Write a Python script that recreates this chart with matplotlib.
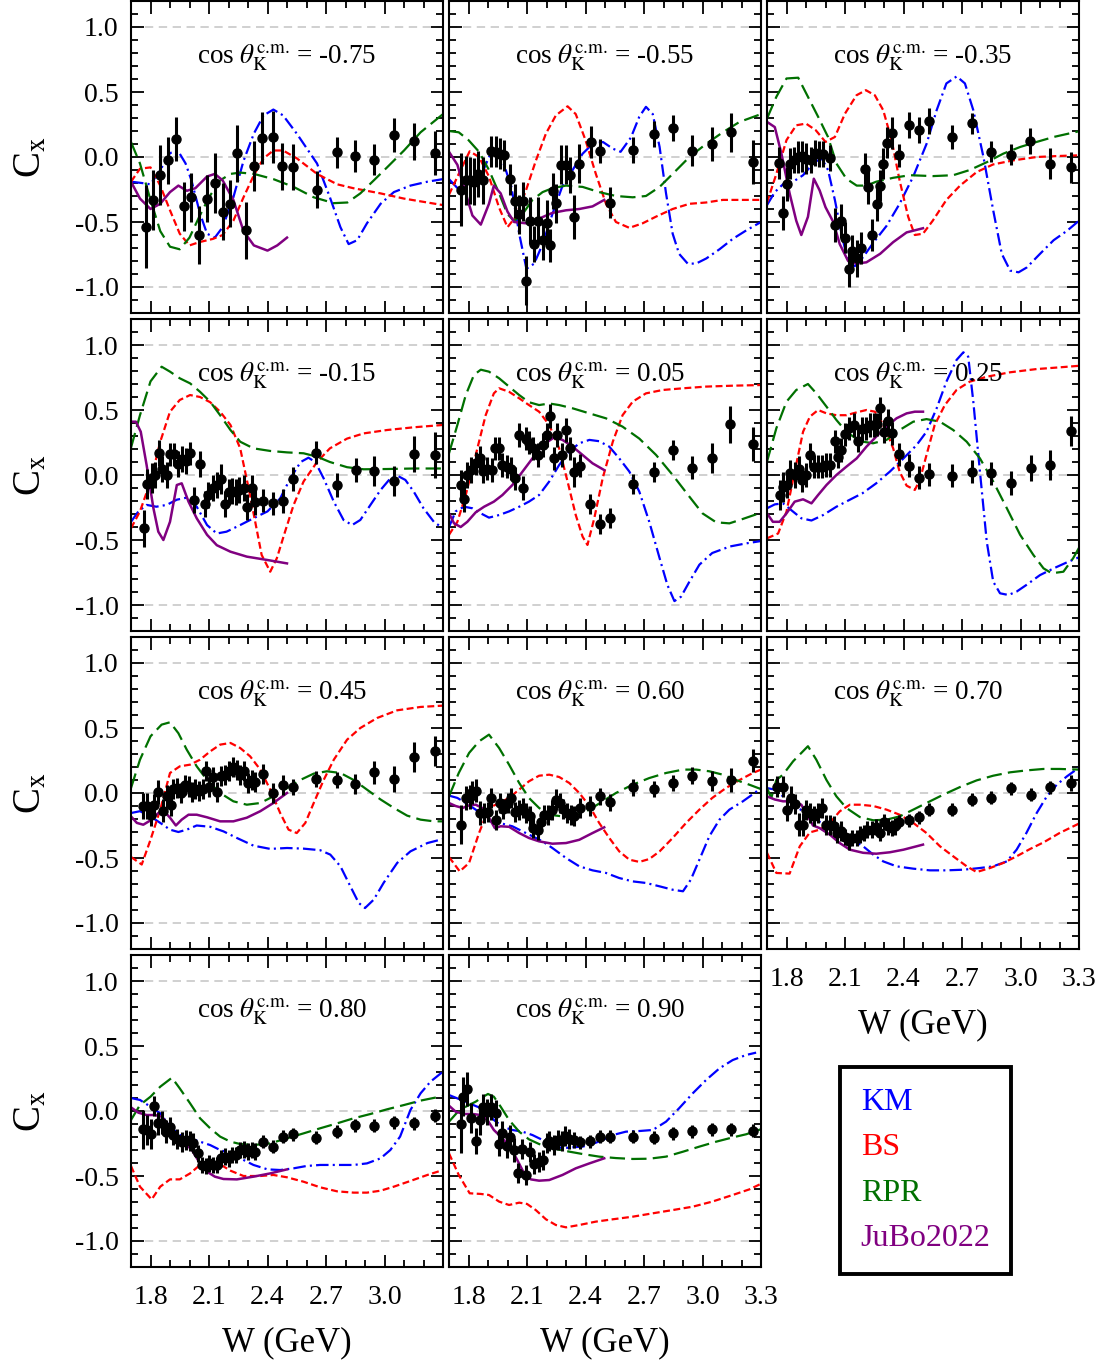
import numpy as np
import matplotlib
matplotlib.use("Agg")
import matplotlib.pyplot as plt
from matplotlib.ticker import MultipleLocator, FixedLocator, FormatStrFormatter

plt.rcParams['font.family'] = 'serif'
plt.rcParams['font.serif'] = ['Liberation Serif', 'DejaVu Serif']
plt.rcParams['mathtext.fontset'] = 'stix'
plt.rcParams['axes.unicode_minus'] = False
plt.rcParams['lines.scale_dashes'] = False

# ---------------- data ----------------
angle_labels = ['-0.75', '-0.55', '-0.35', '-0.15', '0.05', '0.25', '0.45', '0.60', '0.70', '0.80', '0.90']

# cos = -0.75
w_m075 = [1.777, 1.815, 1.849, 1.888, 1.931, 1.972, 2.008, 2.051, 2.092, 2.131, 2.171, 2.209, 2.246, 2.29, 2.332, 2.373, 2.43, 2.476, 2.53, 2.654, 2.758, 2.85, 2.948, 3.051, 3.149, 3.26]
cx_m075 = [-0.535, -0.33, -0.136, -0.026, 0.141, -0.38, -0.31, -0.60, -0.32, -0.20, -0.42, -0.36, 0.03, -0.565, -0.07, 0.147, 0.154, -0.07, -0.077, -0.25, 0.036, 0.008, -0.02, 0.167, 0.12, 0.033]
err_m075 = [0.32, 0.23, 0.23, 0.18, 0.17, 0.19, 0.19, 0.22, 0.18, 0.23, 0.22, 0.18, 0.22, 0.22, 0.19, 0.2, 0.2, 0.18, 0.18, 0.14, 0.12, 0.12, 0.12, 0.13, 0.14, 0.17]
km_w_m075 = [1.7, 1.755, 1.8, 1.85, 1.9, 1.94, 1.98, 2.01, 2.055, 2.09, 2.13, 2.17, 2.225, 2.277, 2.33, 2.38, 2.43, 2.48, 2.55, 2.654, 2.72, 2.774, 2.816, 2.86, 2.91, 2.98, 3.048, 3.133, 3.22, 3.3]
km_m075 = [-0.19, -0.20, -0.21, -0.10, 0.03, 0.05, -0.05, -0.18, -0.44, -0.59, -0.62, -0.54, -0.31, -0.03, 0.18, 0.32, 0.365, 0.32, 0.18, -0.05, -0.31, -0.54, -0.67, -0.64, -0.51, -0.36, -0.27, -0.22, -0.19, -0.17]
bs_w_m075 = [1.7, 1.746, 1.8, 1.85, 1.9, 1.95, 2.0, 2.05, 2.12, 2.17, 2.225, 2.277, 2.33, 2.38, 2.43, 2.48, 2.55, 2.654, 2.757, 2.84, 2.98, 3.1, 3.3]
bs_m075 = [-0.19, -0.09, -0.08, -0.22, -0.41, -0.59, -0.68, -0.655, -0.63, -0.60, -0.49, -0.31, -0.14, -0.01, 0.05, 0.05, -0.01, -0.13, -0.21, -0.24, -0.28, -0.32, -0.37]
rpr_w_m075 = [1.7, 1.746, 1.8, 1.85, 1.9, 1.95, 2.0, 2.05, 2.1, 2.157, 2.21, 2.26, 2.33, 2.43, 2.534, 2.637, 2.74, 2.81, 2.876, 2.945, 3.013, 3.1, 3.185, 3.3]
rpr_m075 = [0.115, -0.05, -0.33, -0.57, -0.69, -0.71, -0.62, -0.46, -0.31, -0.18, -0.13, -0.12, -0.13, -0.17, -0.23, -0.31, -0.355, -0.35, -0.28, -0.18, -0.08, 0.05, 0.19, 0.33]
jubo_w_m075 = [1.7, 1.746, 1.8, 1.85, 1.9, 1.943, 1.986, 2.03, 2.09, 2.13, 2.17, 2.225, 2.277, 2.33, 2.40, 2.45, 2.50]
jubo_m075 = [-0.19, -0.32, -0.40, -0.36, -0.27, -0.22, -0.26, -0.24, -0.15, -0.13, -0.18, -0.33, -0.57, -0.68, -0.72, -0.68, -0.62]

# cos = -0.55
w_m055 = [1.76, 1.786, 1.806, 1.828, 1.85, 1.875, 1.917, 1.94, 1.962, 1.983, 2.013, 2.04, 2.06, 2.077, 2.097, 2.114, 2.137, 2.157, 2.18, 2.2, 2.219, 2.234, 2.25, 2.274, 2.3, 2.32, 2.342, 2.368, 2.428, 2.476, 2.527, 2.642, 2.753, 2.847, 2.947, 3.05, 3.147, 3.258]
cx_m055 = [-0.25, -0.18, -0.18, -0.19, -0.13, -0.18, 0.045, 0.04, 0.025, 0.013, -0.17, -0.34, -0.44, -0.34, -0.95, -0.49, -0.67, -0.49, -0.64, -0.51, -0.68, -0.26, -0.355, -0.06, -0.06, -0.14, -0.46, -0.05, 0.115, 0.046, -0.35, 0.056, 0.18, 0.22, 0.05, 0.10, 0.19, -0.04]
err_m055 = [0.28, 0.19, 0.18, 0.18, 0.18, 0.18, 0.12, 0.12, 0.12, 0.12, 0.12, 0.13, 0.15, 0.15, 0.19, 0.18, 0.14, 0.18, 0.15, 0.18, 0.13, 0.14, 0.15, 0.15, 0.15, 0.14, 0.17, 0.15, 0.12, 0.09, 0.12, 0.10, 0.10, 0.10, 0.12, 0.13, 0.15, 0.17]
km_w_m055 = [1.7, 1.75, 1.80, 1.854, 1.905, 1.94, 1.98, 2.02, 2.06, 2.097, 2.137, 2.18, 2.23, 2.28, 2.334, 2.385, 2.436, 2.49, 2.54, 2.58, 2.633, 2.676, 2.71, 2.745, 2.78, 2.813, 2.847, 2.88, 2.924, 2.967, 3.02, 3.087, 3.155, 3.224, 3.3]
km_m055 = [-0.17, -0.25, -0.19, -0.18, 0.0, 0.04, -0.05, -0.23, -0.59, -0.86, -0.82, -0.67, -0.44, -0.23, -0.10, 0.025, 0.10, 0.115, 0.064, 0.04, 0.15, 0.31, 0.386, 0.33, 0.077, -0.28, -0.59, -0.745, -0.82, -0.82, -0.78, -0.71, -0.63, -0.565, -0.50]
bs_w_m055 = [1.7, 1.75, 1.806, 1.854, 1.905, 1.957, 2.0, 2.042, 2.094, 2.145, 2.197, 2.248, 2.308, 2.35, 2.4, 2.453, 2.505, 2.556, 2.625, 2.693, 2.76, 2.847, 2.933, 3.018, 3.104, 3.19, 3.3]
bs_m055 = [-0.29, -0.13, 0.044, 0.0, -0.15, -0.39, -0.54, -0.46, -0.26, -0.03, 0.18, 0.32, 0.39, 0.33, 0.13, -0.13, -0.36, -0.50, -0.545, -0.51, -0.46, -0.40, -0.36, -0.35, -0.33, -0.33, -0.33]
rpr_w_m055 = [1.7, 1.75, 1.80, 1.854, 1.905, 1.957, 2.0, 2.034, 2.077, 2.128, 2.18, 2.23, 2.3, 2.385, 2.47, 2.556, 2.642, 2.71, 2.78, 2.847, 2.933, 3.018, 3.104, 3.19, 3.3]
rpr_m055 = [0.20, 0.19, 0.13, 0.04, -0.10, -0.28, -0.44, -0.49, -0.44, -0.33, -0.27, -0.24, -0.22, -0.23, -0.27, -0.30, -0.31, -0.30, -0.23, -0.13, 0.0, 0.10, 0.19, 0.27, 0.33]
jubo_w_m055 = [1.7, 1.743, 1.786, 1.82, 1.863, 1.905, 1.93, 1.965, 2.0, 2.034, 2.094, 2.16, 2.23, 2.3, 2.368, 2.436, 2.496]
jubo_m055 = [0.04, -0.06, -0.28, -0.45, -0.52, -0.36, -0.22, -0.28, -0.42, -0.50, -0.51, -0.475, -0.43, -0.41, -0.40, -0.38, -0.33]

# cos = -0.35
w_m035 = [1.762, 1.782, 1.8, 1.82, 1.839, 1.86, 1.88, 1.9, 1.928, 1.945, 1.965, 1.988, 2.022, 2.048, 2.082, 2.102, 2.12, 2.138, 2.159, 2.18, 2.202, 2.219, 2.24, 2.262, 2.279, 2.296, 2.316, 2.342, 2.378, 2.43, 2.477, 2.529, 2.649, 2.751, 2.85, 2.95, 3.05, 3.149, 3.258]
cx_m035 = [-0.046, -0.43, -0.21, -0.05, -0.026, 0.0, 0.005, -0.013, -0.026, 0.03, 0.026, 0.02, -0.005, -0.52, -0.49, -0.62, -0.86, -0.72, -0.78, -0.70, -0.09, -0.23, -0.60, -0.36, -0.22, -0.05, 0.11, 0.185, 0.013, 0.244, 0.206, 0.28, 0.154, 0.26, 0.04, 0.018, 0.12, -0.05, -0.08]
err_m035 = [0.12, 0.13, 0.13, 0.12, 0.10, 0.12, 0.12, 0.12, 0.10, 0.10, 0.10, 0.10, 0.10, 0.13, 0.13, 0.12, 0.14, 0.12, 0.14, 0.12, 0.12, 0.13, 0.12, 0.13, 0.12, 0.12, 0.12, 0.12, 0.09, 0.10, 0.10, 0.10, 0.09, 0.08, 0.08, 0.08, 0.10, 0.12, 0.12]
km_w_m035 = [1.7, 1.74, 1.782, 1.834, 1.885, 1.936, 1.98, 2.013, 2.048, 2.082, 2.116, 2.15, 2.193, 2.245, 2.313, 2.38, 2.45, 2.518, 2.57, 2.62, 2.673, 2.715, 2.758, 2.81, 2.86, 2.904, 2.947, 2.99, 3.032, 3.1, 3.17, 3.24, 3.3]
km_m035 = [-0.37, -0.27, -0.21, -0.19, -0.14, -0.05, -0.01, -0.10, -0.33, -0.59, -0.81, -0.84, -0.77, -0.66, -0.53, -0.36, -0.15, 0.10, 0.36, 0.566, 0.62, 0.566, 0.36, 0.0, -0.41, -0.745, -0.874, -0.887, -0.85, -0.745, -0.64, -0.566, -0.49]
bs_w_m035 = [1.7, 1.748, 1.8, 1.85, 1.9, 1.95, 2.0, 2.048, 2.1, 2.159, 2.207, 2.253, 2.296, 2.339, 2.38, 2.424, 2.458, 2.5, 2.55, 2.62, 2.69, 2.775, 2.86, 2.963, 3.083, 3.2, 3.3]
bs_m035 = [-0.35, -0.13, 0.13, 0.244, 0.257, 0.206, 0.116, 0.154, 0.334, 0.475, 0.514, 0.475, 0.36, 0.13, -0.18, -0.46, -0.60, -0.59, -0.49, -0.33, -0.22, -0.116, -0.057, -0.026, 0.0, 0.008, 0.013]
rpr_w_m035 = [1.7, 1.748, 1.8, 1.86, 1.91, 1.962, 2.013, 2.056, 2.107, 2.16, 2.21, 2.26, 2.347, 2.433, 2.55, 2.655, 2.74, 2.827, 2.912, 2.998, 3.083, 3.17, 3.3]
rpr_m035 = [0.296, 0.463, 0.604, 0.61, 0.463, 0.31, 0.154, -0.05, -0.167, -0.22, -0.22, -0.19, -0.16, -0.14, -0.147, -0.14, -0.10, -0.04, 0.026, 0.077, 0.116, 0.154, 0.198]
jubo_w_m035 = [1.7, 1.74, 1.774, 1.816, 1.85, 1.876, 1.91, 1.94, 1.97, 2.0, 2.04, 2.073, 2.116, 2.159, 2.21, 2.28, 2.347, 2.416, 2.5]
jubo_m035 = [0.27, 0.23, 0.026, -0.28, -0.49, -0.60, -0.46, -0.167, -0.257, -0.386, -0.50, -0.67, -0.80, -0.82, -0.81, -0.745, -0.655, -0.58, -0.548]

# cos = -0.15
w_m015 = [1.767, 1.78, 1.806, 1.823, 1.846, 1.86, 1.883, 1.9, 1.923, 1.94, 1.96, 1.98, 2.003, 2.024, 2.054, 2.08, 2.097, 2.12, 2.143, 2.16, 2.18, 2.2, 2.22, 2.24, 2.256, 2.277, 2.297, 2.32, 2.337, 2.376, 2.426, 2.48, 2.53, 2.65, 2.757, 2.852, 2.948, 3.048, 3.15, 3.258]
cx_m015 = [-0.41, -0.07, -0.026, 0.0, 0.167, 0.05, 0.0, 0.16, 0.16, 0.085, 0.12, 0.11, 0.167, -0.19, 0.085, -0.22, -0.15, -0.10, -0.077, -0.03, -0.225, -0.13, -0.12, -0.13, -0.115, -0.10, -0.244, -0.10, -0.205, -0.197, -0.218, -0.20, -0.03, 0.172, -0.077, 0.038, 0.033, -0.044, 0.16, 0.154]
err_m015 = [0.14, 0.115, 0.115, 0.10, 0.10, 0.10, 0.10, 0.09, 0.09, 0.10, 0.10, 0.10, 0.09, 0.10, 0.10, 0.10, 0.10, 0.10, 0.10, 0.115, 0.10, 0.10, 0.10, 0.10, 0.10, 0.10, 0.10, 0.10, 0.10, 0.09, 0.09, 0.09, 0.09, 0.09, 0.09, 0.09, 0.115, 0.115, 0.14, 0.18]
km_w_m015 = [1.7, 1.738, 1.78, 1.83, 1.883, 1.935, 1.986, 2.037, 2.09, 2.14, 2.19, 2.26, 2.328, 2.4, 2.465, 2.517, 2.57, 2.61, 2.645, 2.688, 2.74, 2.79, 2.834, 2.876, 2.928, 2.98, 3.03, 3.065, 3.107, 3.15, 3.2, 3.253, 3.3]
km_m015 = [-0.36, -0.28, -0.23, -0.244, -0.23, -0.19, -0.174, -0.244, -0.385, -0.45, -0.436, -0.385, -0.333, -0.28, -0.18, -0.026, 0.10, 0.133, 0.10, -0.026, -0.205, -0.346, -0.385, -0.346, -0.23, -0.115, -0.026, -0.005, -0.038, -0.128, -0.256, -0.36, -0.41]
bs_w_m015 = [1.7, 1.746, 1.8, 1.85, 1.9, 1.95, 2.003, 2.054, 2.106, 2.157, 2.21, 2.26, 2.303, 2.337, 2.37, 2.414, 2.448, 2.49, 2.534, 2.585, 2.654, 2.72, 2.808, 2.893, 3.013, 3.15, 3.3]
bs_m015 = [-0.41, -0.28, -0.05, 0.256, 0.487, 0.577, 0.615, 0.60, 0.56, 0.487, 0.385, 0.205, -0.10, -0.36, -0.615, -0.744, -0.64, -0.436, -0.23, -0.05, 0.10, 0.205, 0.28, 0.32, 0.346, 0.367, 0.385]
rpr_w_m015 = [1.7, 1.746, 1.8, 1.857, 1.9, 1.95, 2.003, 2.054, 2.106, 2.157, 2.21, 2.26, 2.328, 2.414, 2.5, 2.585, 2.654, 2.72, 2.808, 2.893, 3.013, 3.15, 3.3]
rpr_m015 = [0.21, 0.46, 0.72, 0.833, 0.795, 0.744, 0.705, 0.64, 0.564, 0.46, 0.346, 0.256, 0.205, 0.185, 0.174, 0.167, 0.141, 0.10, 0.06, 0.044, 0.046, 0.05, 0.05]
jubo_w_m015 = [1.7, 1.725, 1.75, 1.78, 1.815, 1.84, 1.866, 1.9, 1.935, 1.96, 1.995, 2.037, 2.09, 2.14, 2.21, 2.294, 2.4, 2.5]
jubo_m015 = [0.41, 0.41, 0.333, 0.077, -0.256, -0.436, -0.5, -0.36, -0.077, -0.064, -0.205, -0.333, -0.46, -0.54, -0.59, -0.628, -0.654, -0.68]

# cos = 0.05
w_p005 = [1.76, 1.777, 1.794, 1.815, 1.837, 1.857, 1.876, 1.897, 1.92, 1.935, 1.957, 1.974, 1.995, 2.017, 2.037, 2.06, 2.08, 2.097, 2.11, 2.13, 2.154, 2.18, 2.2, 2.219, 2.24, 2.256, 2.277, 2.3, 2.32, 2.339, 2.373, 2.424, 2.476, 2.527, 2.645, 2.753, 2.847, 2.947, 3.05, 3.143, 3.258]
cx_p005 = [-0.077, -0.185, 0.0, 0.038, 0.09, 0.133, 0.03, 0.05, 0.038, 0.205, 0.205, 0.077, 0.064, 0.05, -0.026, 0.308, -0.10, 0.28, 0.25, 0.205, 0.154, 0.23, 0.308, 0.454, 0.128, 0.308, 0.154, 0.346, 0.205, 0.026, 0.072, -0.223, -0.377, -0.333, -0.072, 0.026, 0.195, 0.056, 0.133, 0.39, 0.236]
err_p005 = [0.115, 0.10, 0.10, 0.10, 0.09, 0.09, 0.09, 0.09, 0.09, 0.09, 0.09, 0.09, 0.09, 0.09, 0.09, 0.09, 0.09, 0.09, 0.09, 0.09, 0.09, 0.09, 0.09, 0.09, 0.09, 0.09, 0.09, 0.09, 0.09, 0.115, 0.09, 0.077, 0.077, 0.077, 0.077, 0.077, 0.077, 0.09, 0.115, 0.14, 0.13]
km_w_p005 = [1.7, 1.734, 1.777, 1.82, 1.863, 1.905, 1.957, 2.008, 2.06, 2.11, 2.162, 2.214, 2.265, 2.317, 2.368, 2.42, 2.47, 2.522, 2.573, 2.625, 2.676, 2.727, 2.78, 2.82, 2.856, 2.89, 2.933, 2.984, 3.05, 3.14, 3.224, 3.3]
km_p005 = [-0.40, -0.28, -0.244, -0.256, -0.295, -0.328, -0.308, -0.28, -0.244, -0.205, -0.154, -0.05, 0.077, 0.18, 0.244, 0.27, 0.26, 0.218, 0.128, 0.026, -0.128, -0.36, -0.64, -0.846, -0.97, -0.936, -0.82, -0.69, -0.60, -0.55, -0.526, -0.508]
bs_w_p005 = [1.7, 1.743, 1.786, 1.837, 1.888, 1.93, 1.957, 2.008, 2.06, 2.11, 2.162, 2.214, 2.265, 2.308, 2.35, 2.385, 2.41, 2.445, 2.488, 2.54, 2.59, 2.642, 2.71, 2.796, 2.9, 3.018, 3.155, 3.3]
bs_p005 = [-0.46, -0.36, -0.154, 0.154, 0.46, 0.628, 0.667, 0.64, 0.59, 0.538, 0.487, 0.385, 0.205, -0.05, -0.308, -0.474, -0.538, -0.333, -0.026, 0.256, 0.46, 0.564, 0.628, 0.654, 0.667, 0.68, 0.687, 0.692]
rpr_w_p005 = [1.7, 1.743, 1.786, 1.828, 1.863, 1.905, 1.957, 2.008, 2.06, 2.11, 2.162, 2.214, 2.265, 2.334, 2.42, 2.505, 2.59, 2.676, 2.762, 2.847, 2.933, 3.0, 3.07, 3.138, 3.207, 3.3]
rpr_p005 = [0.167, 0.385, 0.615, 0.77, 0.81, 0.795, 0.744, 0.68, 0.615, 0.56, 0.538, 0.55, 0.538, 0.513, 0.474, 0.436, 0.372, 0.28, 0.154, 0.0, -0.167, -0.295, -0.364, -0.372, -0.338, -0.29]
jubo_w_p005 = [1.7, 1.726, 1.76, 1.794, 1.837, 1.88, 1.93, 1.974, 2.025, 2.077, 2.128, 2.18, 2.24, 2.282, 2.334, 2.385, 2.436, 2.496]
jubo_p005 = [-0.295, -0.372, -0.40, -0.36, -0.287, -0.244, -0.205, -0.154, -0.077, 0.026, 0.128, 0.23, 0.29, 0.27, 0.218, 0.154, 0.09, 0.038]

# cos = 0.25
w_p025 = [1.765, 1.78, 1.8, 1.82, 1.842, 1.864, 1.88, 1.9, 1.923, 1.94, 1.962, 1.984, 2.005, 2.025, 2.048, 2.065, 2.082, 2.102, 2.12, 2.145, 2.167, 2.188, 2.207, 2.227, 2.248, 2.265, 2.282, 2.3, 2.32, 2.342, 2.376, 2.428, 2.477, 2.53, 2.65, 2.75, 2.847, 2.95, 3.053, 3.149, 3.26]
cx_p025 = [-0.154, -0.095, -0.077, 0.013, 0.0, 0.046, -0.038, 0.0, 0.154, 0.064, 0.064, 0.064, 0.077, 0.077, 0.26, 0.141, 0.192, 0.313, 0.36, 0.385, 0.264, 0.354, 0.36, 0.385, 0.385, 0.39, 0.513, 0.333, 0.415, 0.32, 0.16, 0.072, -0.02, 0.005, -0.005, 0.026, 0.013, -0.06, 0.056, 0.077, 0.34]
err_p025 = [0.115, 0.115, 0.10, 0.10, 0.10, 0.10, 0.09, 0.09, 0.09, 0.09, 0.09, 0.09, 0.09, 0.09, 0.09, 0.09, 0.09, 0.09, 0.09, 0.09, 0.09, 0.09, 0.09, 0.09, 0.09, 0.09, 0.09, 0.09, 0.09, 0.09, 0.09, 0.09, 0.09, 0.09, 0.09, 0.09, 0.09, 0.09, 0.10, 0.115, 0.115]
km_w_p025 = [1.7, 1.74, 1.782, 1.834, 1.876, 1.928, 1.988, 2.056, 2.125, 2.19, 2.26, 2.33, 2.4, 2.467, 2.518, 2.57, 2.62, 2.672, 2.707, 2.732, 2.758, 2.792, 2.827, 2.86, 2.895, 2.938, 2.98, 3.03, 3.1, 3.17, 3.238, 3.3]
km_p025 = [-0.256, -0.226, -0.218, -0.282, -0.333, -0.35, -0.308, -0.244, -0.19, -0.14, -0.064, 0.026, 0.128, 0.23, 0.333, 0.513, 0.718, 0.885, 0.944, 0.91, 0.564, 0.026, -0.513, -0.82, -0.91, -0.923, -0.897, -0.846, -0.77, -0.718, -0.672, -0.633]
bs_w_p025 = [1.7, 1.757, 1.8, 1.842, 1.885, 1.92, 1.962, 2.005, 2.056, 2.107, 2.16, 2.21, 2.253, 2.287, 2.32, 2.347, 2.38, 2.416, 2.458, 2.484, 2.518, 2.56, 2.612, 2.672, 2.74, 2.827, 2.946, 3.083, 3.2, 3.3]
bs_p025 = [-0.487, -0.45, -0.282, 0.026, 0.333, 0.449, 0.5, 0.474, 0.46, 0.46, 0.482, 0.5, 0.487, 0.41, 0.308, 0.205, 0.026, -0.082, -0.115, -0.038, 0.154, 0.385, 0.538, 0.654, 0.718, 0.756, 0.79, 0.815, 0.828, 0.84]
rpr_w_p025 = [1.7, 1.748, 1.8, 1.85, 1.91, 1.953, 2.005, 2.056, 2.107, 2.176, 2.244, 2.313, 2.38, 2.45, 2.518, 2.587, 2.655, 2.724, 2.792, 2.86, 2.93, 2.998, 3.066, 3.118, 3.16, 3.22, 3.27, 3.3]
rpr_p025 = [0.103, 0.36, 0.564, 0.654, 0.70, 0.628, 0.526, 0.423, 0.333, 0.26, 0.244, 0.27, 0.346, 0.41, 0.43, 0.41, 0.346, 0.256, 0.128, -0.05, -0.256, -0.46, -0.615, -0.718, -0.756, -0.744, -0.64, -0.56]
jubo_w_p025 = [1.7, 1.73, 1.765, 1.8, 1.842, 1.885, 1.928, 1.962, 2.005, 2.056, 2.107, 2.16, 2.21, 2.26, 2.313, 2.364, 2.416, 2.458, 2.5]
jubo_p025 = [-0.295, -0.36, -0.36, -0.295, -0.205, -0.187, -0.218, -0.154, -0.077, 0.0, 0.064, 0.128, 0.218, 0.295, 0.372, 0.436, 0.474, 0.487, 0.487]

# cos = 0.45
w_p045 = [1.76, 1.78, 1.8, 1.818, 1.84, 1.863, 1.883, 1.904, 1.917, 1.935, 1.957, 1.977, 1.995, 2.012, 2.03, 2.05, 2.068, 2.083, 2.1, 2.123, 2.14, 2.16, 2.18, 2.2, 2.222, 2.243, 2.26, 2.28, 2.3, 2.32, 2.337, 2.376, 2.428, 2.48, 2.53, 2.65, 2.757, 2.85, 2.948, 3.05, 3.15, 3.258]
cx_p045 = [-0.10, -0.097, -0.167, -0.095, 0.008, -0.136, -0.026, -0.09, 0.03, 0.038, 0.0, 0.064, 0.05, 0.005, 0.03, 0.013, 0.033, 0.17, 0.046, 0.123, 0.005, 0.128, 0.14, 0.167, 0.2, 0.18, 0.14, 0.167, 0.077, 0.10, 0.082, 0.149, 0.0, 0.064, 0.046, 0.108, 0.10, 0.072, 0.159, 0.108, 0.277, 0.32]
err_p045 = [0.10, 0.10, 0.09, 0.09, 0.09, 0.09, 0.09, 0.09, 0.077, 0.077, 0.077, 0.077, 0.077, 0.077, 0.077, 0.077, 0.077, 0.077, 0.077, 0.077, 0.077, 0.077, 0.077, 0.077, 0.077, 0.077, 0.077, 0.077, 0.077, 0.077, 0.077, 0.077, 0.077, 0.077, 0.064, 0.064, 0.064, 0.077, 0.09, 0.10, 0.115, 0.115]
km_w_p045 = [1.7, 1.746, 1.8, 1.85, 1.9, 1.943, 1.986, 2.037, 2.106, 2.174, 2.243, 2.328, 2.414, 2.5, 2.585, 2.67, 2.722, 2.774, 2.825, 2.868, 2.9, 2.945, 2.996, 3.065, 3.133, 3.22, 3.3]
km_p045 = [-0.154, -0.14, -0.18, -0.23, -0.282, -0.30, -0.282, -0.25, -0.26, -0.295, -0.346, -0.405, -0.43, -0.423, -0.428, -0.44, -0.474, -0.564, -0.718, -0.846, -0.885, -0.82, -0.69, -0.538, -0.449, -0.385, -0.354]
bs_w_p045 = [1.7, 1.755, 1.8, 1.85, 1.9, 1.95, 2.003, 2.054, 2.106, 2.157, 2.21, 2.26, 2.311, 2.363, 2.414, 2.465, 2.508, 2.55, 2.594, 2.637, 2.688, 2.74, 2.808, 2.876, 2.962, 3.065, 3.185, 3.3]
bs_p045 = [-0.492, -0.55, -0.36, -0.128, 0.154, 0.205, 0.218, 0.256, 0.32, 0.372, 0.385, 0.346, 0.282, 0.18, 0.026, -0.154, -0.282, -0.308, -0.23, -0.077, 0.10, 0.256, 0.41, 0.5, 0.577, 0.636, 0.662, 0.672]
rpr_w_p045 = [1.7, 1.746, 1.8, 1.857, 1.9, 1.943, 1.986, 2.037, 2.09, 2.157, 2.225, 2.294, 2.363, 2.43, 2.5, 2.568, 2.637, 2.705, 2.774, 2.842, 2.91, 2.98, 3.048, 3.116, 3.185, 3.253, 3.3]
rpr_p045 = [0.038, 0.256, 0.436, 0.526, 0.544, 0.46, 0.333, 0.205, 0.10, 0.0, -0.064, -0.09, -0.077, -0.026, 0.038, 0.10, 0.149, 0.167, 0.154, 0.10, 0.026, -0.05, -0.115, -0.174, -0.205, -0.218, -0.218]
jubo_w_p045 = [1.7, 1.73, 1.763, 1.806, 1.84, 1.87, 1.9, 1.93, 1.96, 1.995, 2.037, 2.09, 2.157, 2.225, 2.294, 2.363, 2.43, 2.5]
jubo_p045 = [-0.18, -0.23, -0.244, -0.205, -0.154, -0.14, -0.19, -0.25, -0.205, -0.167, -0.167, -0.187, -0.218, -0.218, -0.19, -0.14, -0.077, 0.0]

# cos = 0.60
w_p060 = [1.76, 1.786, 1.806, 1.82, 1.84, 1.857, 1.88, 1.9, 1.917, 1.94, 1.96, 1.977, 2.0, 2.017, 2.04, 2.06, 2.077, 2.097, 2.114, 2.133, 2.154, 2.171, 2.188, 2.208, 2.23, 2.25, 2.268, 2.286, 2.305, 2.325, 2.342, 2.373, 2.424, 2.476, 2.527, 2.642, 2.753, 2.847, 2.947, 3.05, 3.147, 3.258]
cx_p060 = [-0.244, -0.038, -0.03, 0.005, 0.018, -0.154, -0.154, -0.149, -0.038, -0.205, -0.077, -0.123, -0.077, -0.038, -0.149, -0.128, -0.115, -0.154, -0.174, -0.27, -0.282, -0.226, -0.167, -0.167, -0.128, -0.05, -0.077, -0.123, -0.154, -0.167, -0.174, -0.115, -0.10, -0.026, -0.072, 0.044, 0.03, 0.077, 0.133, 0.095, 0.10, 0.25]
err_p060 = [0.15, 0.09, 0.09, 0.09, 0.09, 0.09, 0.077, 0.077, 0.077, 0.077, 0.077, 0.077, 0.077, 0.077, 0.077, 0.077, 0.077, 0.077, 0.077, 0.077, 0.077, 0.077, 0.077, 0.077, 0.077, 0.077, 0.077, 0.077, 0.077, 0.077, 0.077, 0.077, 0.077, 0.064, 0.064, 0.064, 0.064, 0.064, 0.064, 0.077, 0.09, 0.09]
km_w_p060 = [1.7, 1.743, 1.786, 1.837, 1.888, 1.93, 1.974, 2.025, 2.077, 2.128, 2.18, 2.23, 2.3, 2.368, 2.436, 2.505, 2.573, 2.642, 2.71, 2.78, 2.847, 2.9, 2.94, 2.984, 3.035, 3.087, 3.138, 3.207, 3.267, 3.3]
km_p060 = [-0.02, -0.038, -0.077, -0.128, -0.19, -0.236, -0.236, -0.256, -0.295, -0.333, -0.372, -0.423, -0.5, -0.564, -0.595, -0.615, -0.654, -0.68, -0.692, -0.718, -0.744, -0.756, -0.667, -0.513, -0.333, -0.205, -0.128, -0.064, 0.0, 0.04]
bs_w_p060 = [1.7, 1.755, 1.803, 1.854, 1.905, 1.957, 2.008, 2.06, 2.11, 2.162, 2.214, 2.265, 2.317, 2.368, 2.42, 2.47, 2.522, 2.573, 2.625, 2.676, 2.727, 2.78, 2.847, 2.916, 2.984, 3.05, 3.12, 3.19, 3.258, 3.3]
bs_p060 = [-0.492, -0.603, -0.538, -0.308, -0.115, -0.077, -0.038, 0.026, 0.09, 0.133, 0.141, 0.123, 0.077, 0.0, -0.10, -0.23, -0.346, -0.449, -0.513, -0.53, -0.508, -0.449, -0.346, -0.23, -0.128, -0.038, 0.038, 0.10, 0.154, 0.18]
rpr_w_p060 = [1.7, 1.75, 1.803, 1.854, 1.905, 1.957, 2.008, 2.06, 2.11, 2.162, 2.214, 2.282, 2.35, 2.42, 2.488, 2.556, 2.642, 2.727, 2.813, 2.9, 2.967, 3.035, 3.104, 3.172, 3.24, 3.3]
rpr_p060 = [-0.026, 0.154, 0.308, 0.397, 0.449, 0.346, 0.218, 0.077, -0.038, -0.115, -0.167, -0.18, -0.167, -0.128, -0.064, 0.0, 0.064, 0.115, 0.154, 0.18, 0.18, 0.167, 0.141, 0.10, 0.064, 0.03]
jubo_w_p060 = [1.7, 1.734, 1.77, 1.803, 1.837, 1.87, 1.905, 1.935, 1.965, 2.008, 2.06, 2.11, 2.162, 2.23, 2.3, 2.368, 2.436, 2.496]
jubo_p060 = [-0.077, -0.10, -0.115, -0.095, -0.09, -0.115, -0.19, -0.27, -0.256, -0.26, -0.308, -0.346, -0.372, -0.39, -0.385, -0.36, -0.308, -0.264]

# cos = 0.70
w_p070 = [1.75, 1.782, 1.8, 1.825, 1.846, 1.864, 1.885, 1.9, 1.92, 1.94, 1.962, 1.983, 2.0, 2.022, 2.042, 2.06, 2.082, 2.102, 2.12, 2.138, 2.159, 2.176, 2.197, 2.214, 2.236, 2.258, 2.279, 2.3, 2.318, 2.339, 2.356, 2.376, 2.428, 2.477, 2.53, 2.65, 2.75, 2.847, 2.95, 3.053, 3.149, 3.26]
cx_p070 = [0.05, 0.05, -0.128, -0.038, -0.082, -0.244, -0.244, -0.128, -0.154, -0.174, -0.154, -0.115, -0.244, -0.244, -0.256, -0.308, -0.295, -0.338, -0.372, -0.346, -0.346, -0.32, -0.308, -0.282, -0.282, -0.262, -0.308, -0.223, -0.256, -0.27, -0.256, -0.223, -0.21, -0.187, -0.128, -0.128, -0.05, -0.038, 0.038, -0.013, 0.046, 0.077]
err_p070 = [0.077, 0.077, 0.09, 0.09, 0.077, 0.09, 0.09, 0.077, 0.077, 0.077, 0.077, 0.077, 0.077, 0.077, 0.077, 0.077, 0.077, 0.064, 0.064, 0.064, 0.064, 0.064, 0.064, 0.064, 0.064, 0.064, 0.064, 0.064, 0.064, 0.064, 0.064, 0.05, 0.05, 0.05, 0.05, 0.05, 0.05, 0.05, 0.05, 0.05, 0.05, 0.064]
km_w_p070 = [1.7, 1.74, 1.782, 1.834, 1.885, 1.936, 1.988, 2.04, 2.09, 2.14, 2.193, 2.245, 2.296, 2.364, 2.45, 2.535, 2.62, 2.707, 2.792, 2.86, 2.93, 2.98, 3.03, 3.083, 3.135, 3.186, 3.238, 3.3]
km_p070 = [0.038, 0.026, -0.026, -0.09, -0.14, -0.205, -0.23, -0.27, -0.308, -0.36, -0.41, -0.474, -0.526, -0.564, -0.582, -0.595, -0.595, -0.59, -0.577, -0.564, -0.526, -0.436, -0.308, -0.154, -0.026, 0.064, 0.128, 0.195]
bs_w_p070 = [1.7, 1.748, 1.816, 1.868, 1.92, 1.97, 2.022, 2.073, 2.125, 2.176, 2.245, 2.313, 2.38, 2.45, 2.518, 2.587, 2.655, 2.724, 2.775, 2.844, 2.912, 2.98, 3.05, 3.118, 3.2, 3.3]
bs_p070 = [-0.46, -0.615, -0.62, -0.41, -0.303, -0.282, -0.23, -0.141, -0.09, -0.09, -0.10, -0.128, -0.167, -0.23, -0.308, -0.41, -0.487, -0.564, -0.608, -0.577, -0.538, -0.487, -0.43, -0.38, -0.308, -0.235]
rpr_w_p070 = [1.7, 1.722, 1.748, 1.782, 1.834, 1.876, 1.91, 1.953, 2.005, 2.056, 2.107, 2.176, 2.245, 2.313, 2.38, 2.45, 2.518, 2.604, 2.69, 2.775, 2.86, 2.946, 3.032, 3.118, 3.2, 3.3]
rpr_p070 = [0.038, -0.038, 0.10, 0.141, 0.244, 0.308, 0.36, 0.256, 0.10, -0.026, -0.115, -0.185, -0.21, -0.205, -0.18, -0.128, -0.077, -0.013, 0.046, 0.097, 0.133, 0.159, 0.174, 0.185, 0.185, 0.18]
jubo_w_p070 = [1.7, 1.74, 1.782, 1.834, 1.876, 1.91, 1.936, 1.97, 2.022, 2.073, 2.125, 2.193, 2.26, 2.33, 2.4, 2.467, 2.5]
jubo_p070 = [-0.026, -0.05, -0.064, -0.064, -0.09, -0.18, -0.25, -0.27, -0.32, -0.385, -0.436, -0.46, -0.467, -0.456, -0.436, -0.41, -0.397]

# cos = 0.80
w_p080 = [1.76, 1.78, 1.8, 1.82, 1.84, 1.858, 1.878, 1.9, 1.917, 1.938, 1.96, 1.98, 2.0, 2.02, 2.042, 2.063, 2.083, 2.102, 2.123, 2.14, 2.16, 2.18, 2.2, 2.22, 2.24, 2.26, 2.28, 2.3, 2.32, 2.337, 2.376, 2.428, 2.48, 2.53, 2.65, 2.757, 2.85, 2.948, 3.05, 3.15, 3.26]
cx_p080 = [-0.14, -0.146, -0.177, 0.041, -0.095, -0.09, -0.159, -0.12, -0.185, -0.218, -0.236, -0.223, -0.228, -0.249, -0.326, -0.415, -0.423, -0.403, -0.415, -0.415, -0.364, -0.351, -0.364, -0.338, -0.338, -0.30, -0.295, -0.313, -0.30, -0.313, -0.236, -0.274, -0.197, -0.18, -0.205, -0.159, -0.108, -0.113, -0.087, -0.095, -0.036]
err_p080 = [0.15, 0.115, 0.115, 0.077, 0.09, 0.09, 0.09, 0.077, 0.077, 0.077, 0.077, 0.077, 0.077, 0.077, 0.064, 0.064, 0.064, 0.064, 0.064, 0.064, 0.064, 0.064, 0.064, 0.064, 0.064, 0.064, 0.064, 0.064, 0.064, 0.064, 0.05, 0.05, 0.05, 0.05, 0.05, 0.05, 0.05, 0.05, 0.05, 0.05, 0.05]
km_w_p080 = [1.7, 1.746, 1.8, 1.85, 1.9, 1.95, 2.003, 2.054, 2.106, 2.157, 2.21, 2.26, 2.328, 2.4, 2.465, 2.534, 2.6, 2.67, 2.757, 2.842, 2.91, 2.98, 3.03, 3.08, 3.133, 3.185, 3.236, 3.3]
km_p080 = [0.10, 0.085, 0.033, -0.018, -0.12, -0.185, -0.21, -0.236, -0.262, -0.30, -0.326, -0.364, -0.415, -0.449, -0.454, -0.441, -0.423, -0.415, -0.415, -0.415, -0.403, -0.364, -0.30, -0.197, 0.008, 0.136, 0.226, 0.303]
bs_w_p080 = [1.7, 1.746, 1.806, 1.85, 1.9, 1.95, 2.003, 2.054, 2.106, 2.157, 2.21, 2.277, 2.363, 2.43, 2.5, 2.585, 2.67, 2.757, 2.842, 2.91, 2.98, 3.048, 3.133, 3.22, 3.3]
bs_p080 = [-0.423, -0.582, -0.68, -0.582, -0.526, -0.526, -0.48, -0.415, -0.382, -0.41, -0.459, -0.5, -0.5, -0.492, -0.51, -0.544, -0.587, -0.618, -0.628, -0.628, -0.613, -0.582, -0.538, -0.492, -0.454]
rpr_w_p080 = [1.7, 1.746, 1.8, 1.85, 1.91, 1.95, 2.003, 2.054, 2.106, 2.157, 2.21, 2.26, 2.328, 2.414, 2.5, 2.585, 2.67, 2.757, 2.842, 2.928, 3.013, 3.1, 3.185, 3.3]
rpr_p080 = [-0.069, 0.046, 0.11, 0.187, 0.256, 0.174, 0.059, -0.056, -0.133, -0.197, -0.236, -0.254, -0.262, -0.249, -0.21, -0.172, -0.133, -0.095, -0.056, -0.023, 0.013, 0.046, 0.08, 0.115]
jubo_w_p080 = [1.7, 1.738, 1.78, 1.823, 1.858, 1.892, 1.926, 1.97, 2.012, 2.054, 2.09, 2.13, 2.174, 2.243, 2.328, 2.414, 2.5]
jubo_p080 = [0.028, -0.013, -0.031, -0.031, -0.044, -0.108, -0.185, -0.236, -0.30, -0.403, -0.467, -0.505, -0.523, -0.526, -0.505, -0.48, -0.449]

# cos = 0.90
w_p090 = [1.76, 1.774, 1.794, 1.815, 1.837, 1.858, 1.876, 1.897, 1.917, 1.94, 1.957, 1.974, 1.995, 2.012, 2.034, 2.055, 2.073, 2.097, 2.114, 2.137, 2.16, 2.18, 2.2, 2.214, 2.236, 2.257, 2.277, 2.296, 2.317, 2.34, 2.373, 2.424, 2.476, 2.527, 2.645, 2.753, 2.847, 2.947, 3.05, 3.147, 3.258]
cx_p090 = [-0.103, 0.11, 0.167, -0.056, -0.231, -0.069, 0.028, -0.005, 0.028, -0.018, -0.256, -0.167, -0.269, -0.197, -0.30, -0.474, -0.295, -0.492, -0.313, -0.41, -0.39, -0.377, -0.244, -0.228, -0.262, -0.223, -0.228, -0.192, -0.218, -0.223, -0.241, -0.231, -0.197, -0.197, -0.197, -0.205, -0.172, -0.154, -0.141, -0.141, -0.151]
err_p090 = [0.22, 0.15, 0.13, 0.115, 0.10, 0.115, 0.10, 0.10, 0.10, 0.10, 0.09, 0.09, 0.09, 0.09, 0.09, 0.077, 0.077, 0.077, 0.077, 0.077, 0.077, 0.077, 0.077, 0.077, 0.077, 0.077, 0.077, 0.077, 0.077, 0.064, 0.05, 0.05, 0.05, 0.05, 0.05, 0.05, 0.05, 0.05, 0.05, 0.05, 0.05]
km_w_p090 = [1.7, 1.743, 1.786, 1.837, 1.888, 1.93, 1.974, 2.025, 2.077, 2.128, 2.18, 2.23, 2.282, 2.334, 2.385, 2.436, 2.488, 2.54, 2.607, 2.676, 2.745, 2.813, 2.88, 2.95, 3.018, 3.087, 3.155, 3.224, 3.275]
km_p090 = [0.123, 0.097, 0.072, 0.038, 0.008, -0.069, -0.12, -0.146, -0.159, -0.185, -0.223, -0.262, -0.287, -0.279, -0.274, -0.254, -0.223, -0.185, -0.159, -0.154, -0.146, -0.082, 0.021, 0.136, 0.238, 0.328, 0.392, 0.431, 0.449]
bs_w_p090 = [1.7, 1.75, 1.806, 1.863, 1.905, 1.957, 2.008, 2.06, 2.1, 2.145, 2.197, 2.248, 2.3, 2.368, 2.453, 2.54, 2.642, 2.745, 2.847, 2.95, 3.05, 3.155, 3.24, 3.3]
bs_p090 = [-0.326, -0.492, -0.633, -0.638, -0.646, -0.697, -0.723, -0.705, -0.715, -0.762, -0.833, -0.877, -0.895, -0.877, -0.851, -0.833, -0.813, -0.787, -0.762, -0.736, -0.697, -0.646, -0.603, -0.56]
rpr_w_p090 = [1.7, 1.743, 1.786, 1.837, 1.87, 1.9, 1.93, 1.965, 2.008, 2.06, 2.11, 2.162, 2.23, 2.3, 2.385, 2.47, 2.556, 2.642, 2.727, 2.813, 2.9, 2.984, 3.07, 3.155, 3.224, 3.3]
rpr_p090 = [-0.082, -0.01, 0.033, 0.072, 0.105, 0.131, 0.11, 0.033, -0.069, -0.159, -0.218, -0.254, -0.287, -0.308, -0.331, -0.351, -0.362, -0.369, -0.367, -0.351, -0.313, -0.274, -0.236, -0.203, -0.179, -0.14]
jubo_w_p090 = [1.7, 1.734, 1.777, 1.82, 1.863, 1.897, 1.93, 1.974, 2.017, 2.05, 2.085, 2.12, 2.162, 2.214, 2.282, 2.35, 2.42, 2.496]
jubo_p090 = [0.041, -0.005, -0.023, -0.023, -0.031, -0.069, -0.146, -0.21, -0.287, -0.377, -0.479, -0.526, -0.536, -0.531, -0.492, -0.441, -0.403, -0.364]

xtick_vals = [1.8, 2.1, 2.4, 2.7, 3.0, 3.3]

panels = [
    (w_m075, cx_m075, err_m075, km_w_m075, km_m075, bs_w_m075, bs_m075, rpr_w_m075, rpr_m075, jubo_w_m075, jubo_m075),
    (w_m055, cx_m055, err_m055, km_w_m055, km_m055, bs_w_m055, bs_m055, rpr_w_m055, rpr_m055, jubo_w_m055, jubo_m055),
    (w_m035, cx_m035, err_m035, km_w_m035, km_m035, bs_w_m035, bs_m035, rpr_w_m035, rpr_m035, jubo_w_m035, jubo_m035),
    (w_m015, cx_m015, err_m015, km_w_m015, km_m015, bs_w_m015, bs_m015, rpr_w_m015, rpr_m015, jubo_w_m015, jubo_m015),
    (w_p005, cx_p005, err_p005, km_w_p005, km_p005, bs_w_p005, bs_p005, rpr_w_p005, rpr_p005, jubo_w_p005, jubo_p005),
    (w_p025, cx_p025, err_p025, km_w_p025, km_p025, bs_w_p025, bs_p025, rpr_w_p025, rpr_p025, jubo_w_p025, jubo_p025),
    (w_p045, cx_p045, err_p045, km_w_p045, km_p045, bs_w_p045, bs_p045, rpr_w_p045, rpr_p045, jubo_w_p045, jubo_p045),
    (w_p060, cx_p060, err_p060, km_w_p060, km_p060, bs_w_p060, bs_p060, rpr_w_p060, rpr_p060, jubo_w_p060, jubo_p060),
    (w_p070, cx_p070, err_p070, km_w_p070, km_p070, bs_w_p070, bs_p070, rpr_w_p070, rpr_p070, jubo_w_p070, jubo_p070),
    (w_p080, cx_p080, err_p080, km_w_p080, km_p080, bs_w_p080, bs_p080, rpr_w_p080, rpr_p080, jubo_w_p080, jubo_p080),
    (w_p090, cx_p090, err_p090, km_w_p090, km_p090, bs_w_p090, bs_p090, rpr_w_p090, rpr_p090, jubo_w_p090, jubo_p090),
]

# ---------------- layout ----------------
W, H = 1106, 1363
fig = plt.figure(figsize=(W / 100, H / 100), dpi=100)
fig.patch.set_facecolor('white')

lefts = [131, 449, 767]
tops = [1, 319, 637, 955]
pw, ph = 312, 312

km_style = dict(color='#0000ff', lw=1.6, ls=(0, (9, 3, 1.5, 3)))
bs_style = dict(color='#ff0000', lw=1.6, ls=(0, (5, 2.5)))
rpr_style = dict(color='#007000', lw=1.6, ls=(0, (11, 4.5)))
jubo_style = dict(color='#800080', lw=1.8, ls='-')

handles = None
for i, p in enumerate(panels):
    r, c = divmod(i, 3)
    ax = fig.add_axes([lefts[c] / W, 1 - (tops[r] + ph) / H, pw / W, ph / H])
    w, cx, err, kmw, km, bsw, bs, rprw, rpr, jbw, jb = p

    for yy in [-1.0, 0.0, 1.0]:
        ax.axhline(yy, color='#c8c8c8', lw=1.2, ls=(0, (6, 4)), zorder=0)

    l1, = ax.plot(kmw, km, label='KM', **km_style)
    l2, = ax.plot(bsw, bs, label='BS', **bs_style)
    l3, = ax.plot(rprw, rpr, label='RPR', **rpr_style)
    l4, = ax.plot(jbw, jb, label='JuBo2022', **jubo_style)
    if handles is None:
        handles = [l1, l2, l3, l4]

    ax.errorbar(w, cx, yerr=err, fmt='o', color='black', ms=6.5, elinewidth=2.2,
                capsize=0, zorder=5)

    ax.set_xlim(1.7, 3.3)
    ax.set_ylim(-1.2, 1.2)
    ax.xaxis.set_major_locator(FixedLocator(xtick_vals))
    ax.xaxis.set_minor_locator(MultipleLocator(0.1))
    ax.yaxis.set_major_locator(MultipleLocator(0.5))
    ax.yaxis.set_minor_locator(MultipleLocator(0.1))
    ax.yaxis.set_major_formatter(FormatStrFormatter('%.1f'))
    ax.tick_params(which='both', direction='in', top=True, right=True, width=1.3,
                   labelsize=20)
    ax.tick_params(which='major', length=9)
    ax.tick_params(which='minor', length=5)
    ax.tick_params(axis='y', pad=9)
    ax.tick_params(axis='x', pad=13)
    for s in ax.spines.values():
        s.set_linewidth(1.5)

    if c == 0:
        ax.set_ylabel(r'C$_{\rm x}$', fontsize=28, labelpad=18)
    else:
        ax.tick_params(axis='y', labelleft=False)

    show_x = (r == 3) or (r == 2 and c == 2)
    if show_x:
        if r == 3 and c == 0:
            ax.set_xticklabels(['1.8', '2.1', '2.4', '2.7', '3.0', ''])
        else:
            ax.set_xticklabels(['1.8', '2.1', '2.4', '2.7', '3.0', '3.3'])
        ax.set_xlabel('W (GeV)', fontsize=25, labelpad=12)
    else:
        ax.tick_params(axis='x', labelbottom=False)

    ax.text(0.213, 0.80, r'cos $\theta_{\rm K}^{\text{c.m.}}$ = ' + angle_labels[i],
            transform=ax.transAxes, fontsize=19.5, ha='left', va='baseline')

leg = fig.legend(handles=handles, loc='upper left',
                 bbox_to_anchor=(840 / W, 1 - 1067 / H), borderaxespad=0,
                 fontsize=23, handlelength=0, handletextpad=0, labelspacing=0.5,
                 borderpad=0.65, fancybox=False, framealpha=1,
                 labelcolor='linecolor')
leg.get_frame().set_edgecolor('black')
leg.get_frame().set_linewidth(2.8)

fig.savefig('out.png', dpi=100)
